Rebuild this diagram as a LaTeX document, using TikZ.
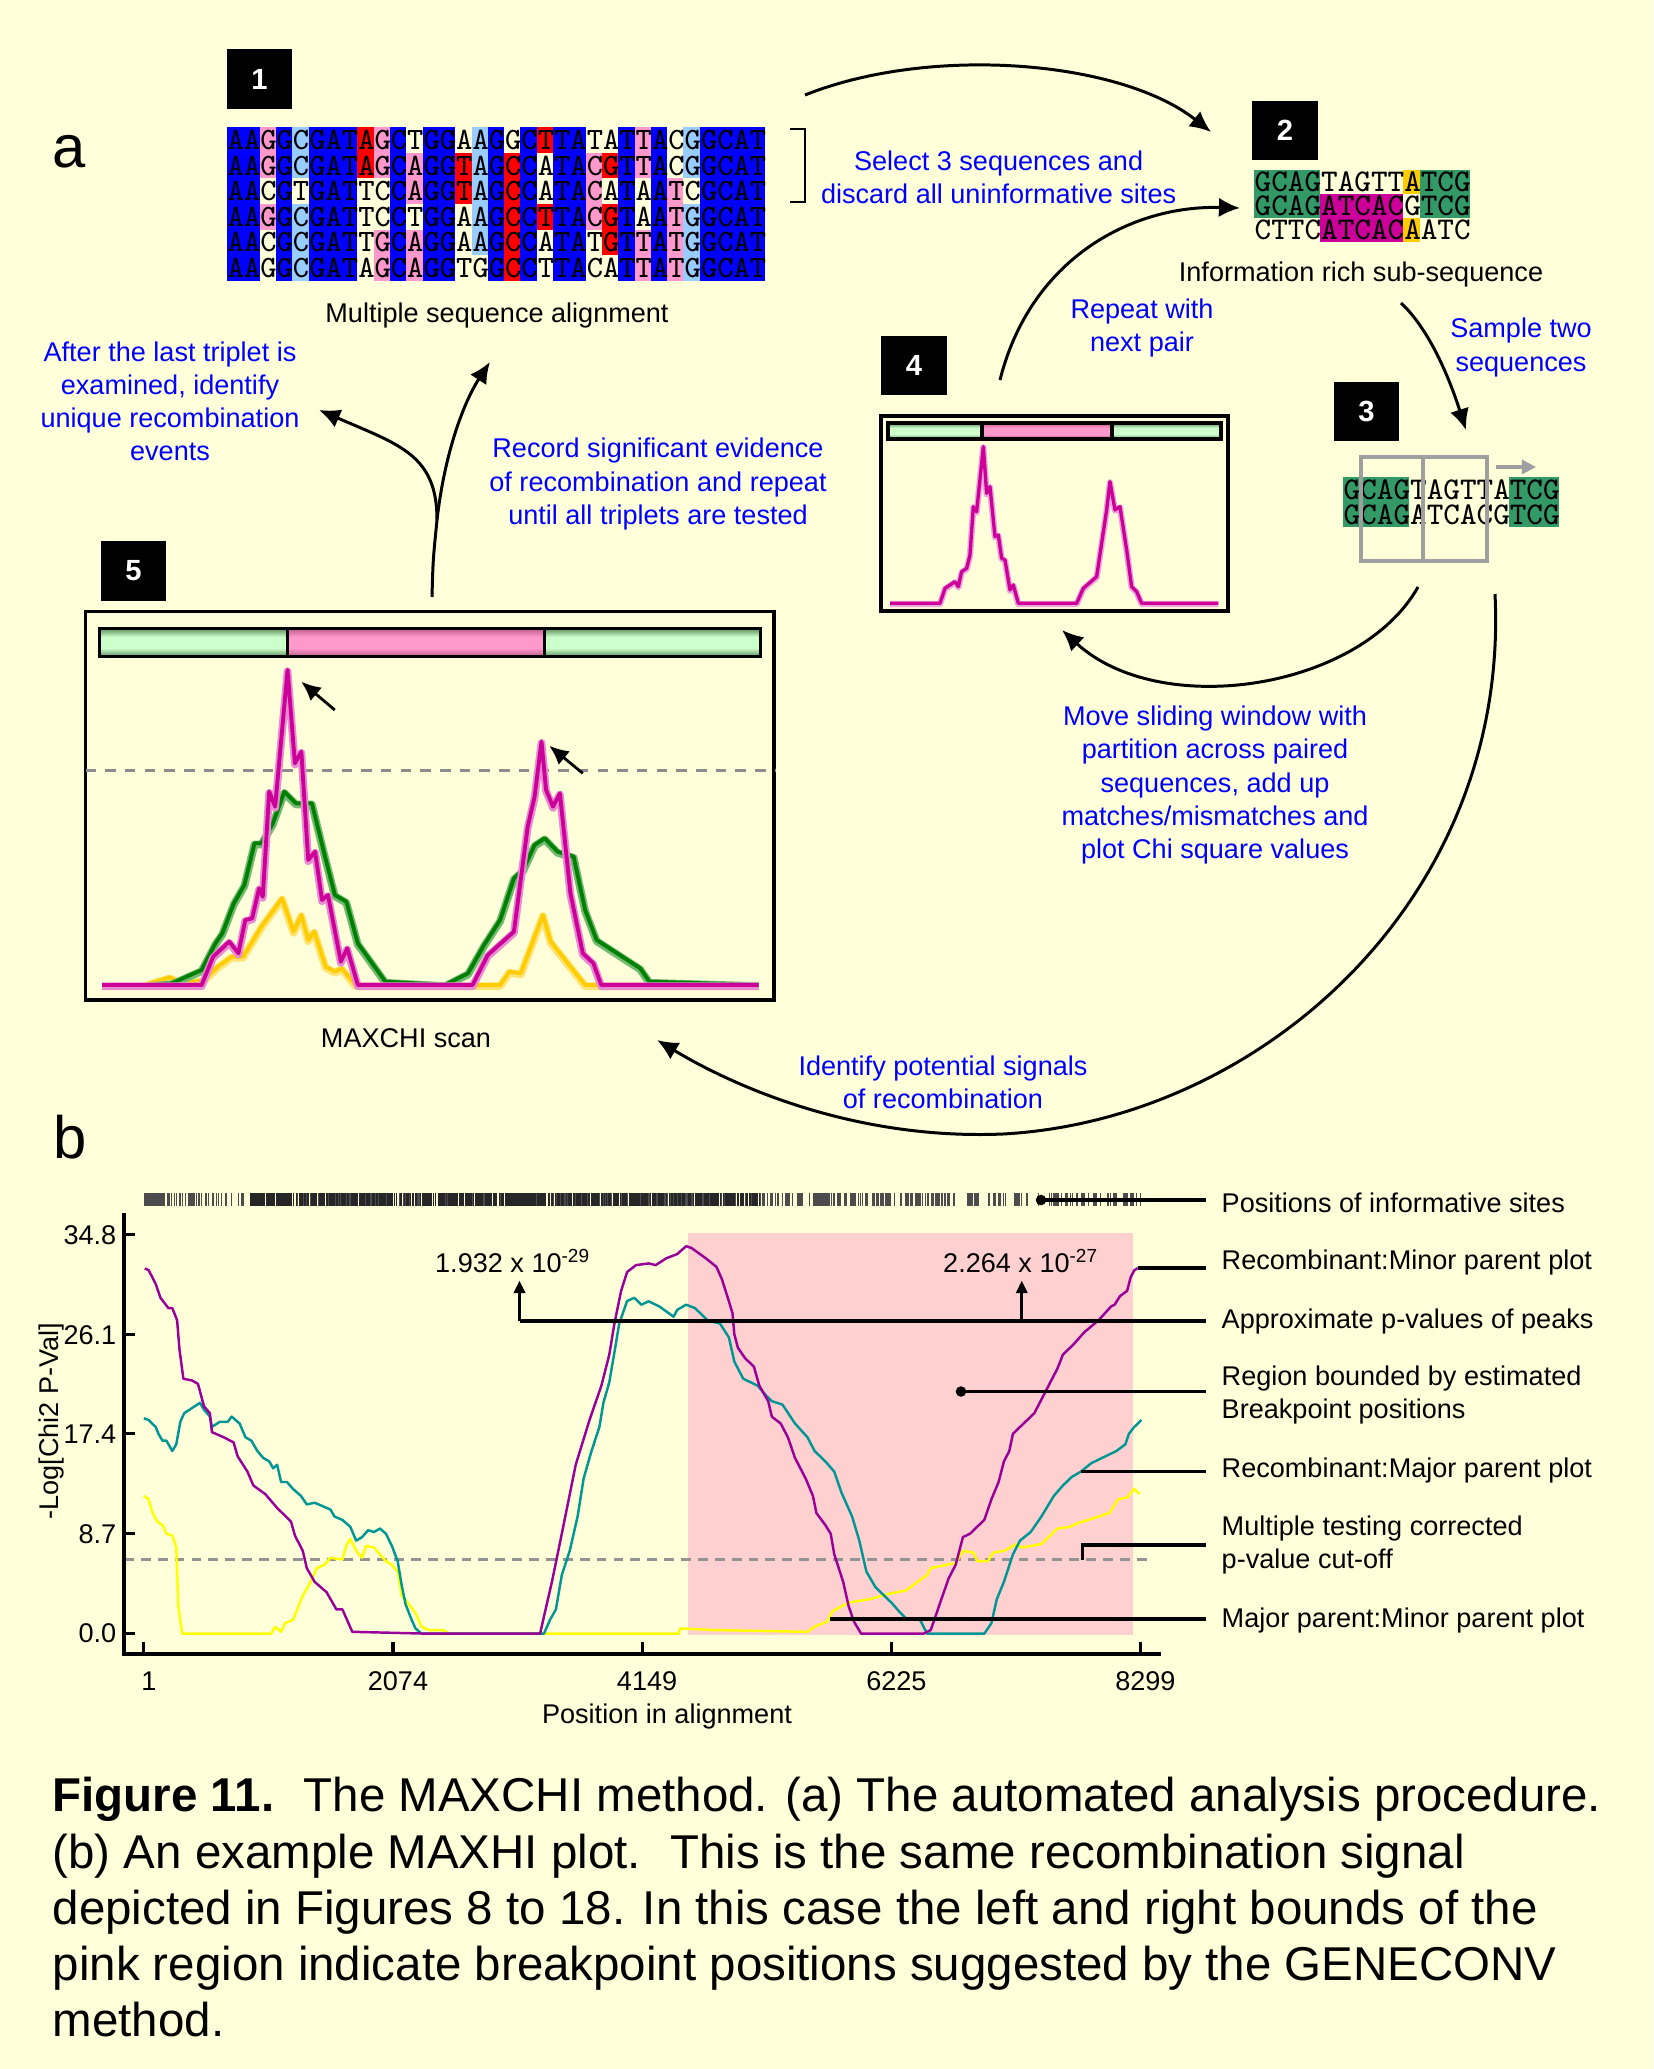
\documentclass[tikz,border=0pt]{standalone}
\usepackage{fontspec}
\setmainfont{Liberation Sans}
\usetikzlibrary{arrows.meta}
\definecolor{bgyel}{RGB}{255,255,218}
\definecolor{colB}{RGB}{0,0,255}
\definecolor{colP}{RGB}{255,153,204}
\definecolor{colL}{RGB}{153,204,255}
\definecolor{colR}{RGB}{255,0,0}
\colorlet{colW}{bgyel}
\definecolor{seqgreen}{RGB}{51,153,102}
\definecolor{seqmag}{RGB}{204,0,153}
\definecolor{seqyel}{RGB}{255,204,0}
\definecolor{barG}{RGB}{204,255,204}
\definecolor{barGd}{RGB}{90,140,90}
\definecolor{barP}{RGB}{255,153,204}
\definecolor{barPd}{RGB}{190,90,140}
\definecolor{chimag}{RGB}{204,0,153}
\definecolor{chigreen}{RGB}{0,128,0}
\definecolor{chiyel}{RGB}{255,204,0}
\definecolor{regpink}{RGB}{255,208,208}
\definecolor{plpurple}{RGB}{153,0,153}
\definecolor{plteal}{RGB}{0,150,150}
\definecolor{plyellow}{RGB}{255,255,0}
\newcommand\bodyfont{\fontsize{7.7}{9.4}\selectfont}
\newcommand\alrow[2]{\foreach \cl [count=\k] in {#2}{\fill[col\cl] ({227+(\k-1)*16.3},{127.3+(#1-1)*25.57}) rectangle ++(16.3,25.57);}}
% bar segment: x1, x2, top, bottom, light, dark
\newcommand\segbar[6]{%
  \fill[#5] (#1,#3) rectangle (#2,#4);
  \shade[top color=#6,bottom color=#5] (#1,#3) rectangle (#2,{#3+0.3*(#4-#3)});
  \shade[top color=#5,bottom color=#6] (#1,{#4-0.3*(#4-#3)}) rectangle (#2,#4);}

\begin{document}
\begin{tikzpicture}[x=0.01cm,y=-0.01cm,
  numbox/.style={fill=black,text=white,font=\bfseries\fontsize{8.3}{10}\selectfont,minimum width=0.65cm,minimum height=0.59cm,inner sep=0pt},
  note/.style={text=blue,align=center,font=\bodyfont,inner sep=0pt},
  lbl/.style={font=\bodyfont,inner sep=0pt},
  seqA/.style={font=\ttfamily\fontsize{8.84}{7.275}\selectfont,inner sep=0pt,anchor=west,align=left},
  seqB/.style={font=\ttfamily\fontsize{9}{6.83}\selectfont,inner sep=0pt,anchor=west,align=left},
  seqC/.style={font=\ttfamily\fontsize{9}{7.11}\selectfont,inner sep=0pt,anchor=west,align=left},
  flow/.style={line width=0.85pt,-{Latex[length=6pt,width=5.5pt]}},
  peakarrow/.style={line width=0.8pt,-{Latex[length=5.5pt,width=5pt]}},
  pvarrow/.style={line width=0.9pt,-{Triangle[length=3.6pt,width=3.2pt]}},
  lead/.style={line width=0.9pt},
  shfour/.style={chimag!35,line width=1.8pt,yshift=-0.6pt,line join=round},
  lnfour/.style={chimag,line width=0.95pt,line join=round},
  shyel/.style={chiyel!55,line width=2.2pt,yshift=-1pt,line join=round},
  lnyel/.style={chiyel,line width=1.1pt,line join=round},
  shgrn/.style={chigreen!55,line width=2.2pt,yshift=-1pt,line join=round},
  lngrn/.style={chigreen,line width=1.1pt,line join=round},
  shmag/.style={chimag!45,line width=2.2pt,yshift=-1pt,line join=round},
  lnmag/.style={chimag,line width=1.1pt,line join=round},
  captxt/.style={font=\fontsize{13.5}{16}\selectfont,anchor=base west,inner sep=0pt}]
\fill[bgyel] (0,0) rectangle (1653,2069);
\useasboundingbox (0,0) rectangle (1653,2069);

\node[font=\fontsize{17}{20}\selectfont] (parta) at (69,152) {a};
\node[font=\fontsize{17}{20}\selectfont] (partb) at (70,1137) {b};

% step 1
\node[numbox] (n1) at (259.5,79) {1};
\alrow{1}{B,B,P,B,L,B,B,B,R,P,B,W,B,B,W,L,B,W,B,R,B,B,W,W,B,P,B,W,L,B,B,B,B}
\alrow{2}{B,B,P,B,L,B,B,B,R,P,B,P,B,B,R,L,B,R,B,W,B,B,P,R,B,P,B,W,L,B,B,B,B}
\alrow{3}{B,B,W,B,W,B,B,B,W,W,B,P,B,B,R,L,B,R,B,W,B,B,P,W,B,W,B,P,W,B,B,B,B}
\alrow{4}{B,B,P,B,L,B,B,B,W,W,B,W,B,B,W,L,B,R,B,R,B,B,P,R,B,W,B,P,L,B,B,B,B}
\alrow{5}{B,B,W,B,L,B,B,B,W,P,B,P,B,B,W,L,B,R,B,W,B,B,W,R,B,P,B,P,L,B,B,B,B}
\alrow{6}{B,B,W,B,L,B,B,B,W,P,B,P,B,B,W,W,B,R,B,W,B,B,W,W,B,P,B,P,L,B,B,B,B}
\node[seqA] (align) at (227,204.05) {AAGGCGATAGCTGGAAGGCTTATATTACGGCAT\\AAGGCGATAGCAGGTAGCCATACGTTACGGCAT\\AACGTGATTCCAGGTAGCCATACATAATCGCAT\\AAGGCGATTCCTGGAAGCCTTACGTAATGGCAT\\AACGCGATTGCAGGAAGCCATATGTTATGGCAT\\AAGGCGATAGCAGGTGGCCTTACATTATGGCAT};
\node[lbl] (msa) at (497,315) {Multiple sequence alignment};
\draw[line width=0.6pt] (790,129) -- (805,129) -- (805,202) -- (790,202);
\node[note] (select) at (998.6,177.5) {Select 3 sequences and\\discard all uninformative sites};

% step 2
\node[numbox] (n2) at (1285,130.5) {2};
\fill[seqgreen] (1254,170) rectangle (1320.4,218);
\fill[seqgreen] (1420,170) rectangle (1469.8,218);
\fill[seqmag] (1320.4,194) rectangle (1403.4,242);
\fill[seqyel] (1403.4,170) rectangle (1420,194);
\fill[seqyel] (1403.4,218) rectangle (1420,242);
\node[seqB] (subseq) at (1254,206) {GCAGTAGTTATCG\\GCAGATCACGTCG\\CTTCATCACAATC};
\node[lbl] (info) at (1361,274) {Information rich sub-sequence};

% step 3
\node[numbox] (n3) at (1366.5,411.5) {3};
\fill[seqgreen] (1343,477) rectangle (1409.4,527);
\fill[seqgreen] (1509,477) rectangle (1558.8,527);
\node[seqC] (pair) at (1343,502) {GCAGTAGTTATCG\\GCAGATCACGTCG};
\draw[gray!75,line width=0.9pt] (1361,457) rectangle (1487,561) (1423,457) -- (1423,561);
\draw[gray!75,line width=0.9pt,-{Triangle[length=4pt,width=4pt]}] (1496,467) -- (1536,467);
\node[note] (sample) at (1521,347.5) {Sample two\\sequences};

% step 4
\node[numbox] (n4) at (914,365.5) {4};
\draw[line width=0.9pt] (881,416) rectangle (1228,611);
\segbar{888}{982}{423}{439}{barG}{barGd}
\segbar{982}{1112}{423}{439}{barP}{barPd}
\segbar{1112}{1221}{423}{439}{barG}{barGd}
\draw[line width=0.9pt] (888,423) rectangle (1221,439) (982,423) -- (982,439) (1112,423) -- (1112,439);
\begin{scope}[shift={(860,330)},scale=0.3333]
\foreach \st in {shfour,lnfour}
  \draw[\st] (90,820) -- (240,820) -- (255,775) -- (285,755) -- (295,770) -- (305,725) -- (320,715) -- (330,675) -- (340,530) -- (350,545) -- (370,350) -- (380,490) -- (390,470) -- (405,620) -- (415,615) -- (425,685) -- (435,690) -- (450,780) -- (460,765) -- (475,820) -- (650,820) -- (670,775) -- (710,740) -- (725,640) -- (740,540) -- (750,455) -- (765,540) -- (780,530) -- (800,660) -- (815,770) -- (830,785) -- (845,820) -- (1075,820);
\end{scope}
\node[note] (repeat) at (1142,328) {Repeat with\\next pair};
\node[note] (move) at (1215,785) {Move sliding window with\\partition across paired\\sequences, add up\\matches/mismatches and\\plot Chi square values};

% step 5
\node[numbox] (n5) at (133.5,571) {5};
\draw[line width=0.9pt] (85.5,611.7) rectangle (774,1000);
\segbar{99.3}{287.5}{628.3}{656.7}{barG}{barGd}
\segbar{287.5}{544.6}{628.3}{656.7}{barP}{barPd}
\segbar{544.6}{760.4}{628.3}{656.7}{barG}{barGd}
\draw[line width=1pt] (99.3,628.3) rectangle (760.4,656.7) (287.5,628.3) -- (287.5,656.7) (544.6,628.3) -- (544.6,656.7);
\draw[gray!90,line width=0.85pt,dash pattern=on 3pt off 2.6pt] (85.5,770) -- (775,770);
\begin{scope}[shift={(80,540)},xscale=0.4592,yscale=0.3333]
\foreach \st in {shyel,lnyel}
  \draw[\st] (140,1335) -- (195,1312) -- (225,1330) -- (270,1320) -- (300,1280) -- (330,1250) -- (355,1250) -- (395,1160) -- (440,1075) -- (465,1175) -- (482,1125) -- (497,1200) -- (510,1175) -- (535,1280) -- (555,1295) -- (570,1285) -- (600,1335) -- (915,1335) -- (935,1295) -- (960,1300) -- (1008,1125) -- (1025,1205) -- (1100,1335) -- (1478,1335);
\foreach \st in {shgrn,lngrn}
  \draw[\st] (150,1335) -- (200,1330) -- (265,1290) -- (295,1210) -- (310,1180) -- (335,1090) -- (358,1035) -- (380,910) -- (395,910) -- (420,850) -- (445,755) -- (470,790) -- (505,790) -- (530,930) -- (555,1065) -- (580,1085) -- (605,1210) -- (665,1325) -- (795,1335) -- (845,1300) -- (880,1215) -- (915,1140) -- (945,1015) -- (965,990) -- (990,915) -- (1012,895) -- (1040,935) -- (1075,950) -- (1100,1110) -- (1125,1200) -- (1220,1285) -- (1240,1325) -- (1478,1335);
\foreach \st in {shmag,lnmag}
  \draw[\st] (48,1335) -- (265,1335) -- (290,1250) -- (325,1205) -- (345,1240) -- (360,1140) -- (375,1135) -- (390,1045) -- (398,1070) -- (412,755) -- (425,800) -- (452,390) -- (468,670) -- (482,635) -- (497,960) -- (512,935) -- (527,1080) -- (540,1065) -- (568,1265) -- (582,1225) -- (605,1335) -- (855,1335) -- (888,1245) -- (945,1175) -- (975,860) -- (990,770) -- (1005,605) -- (1015,750) -- (1030,800) -- (1045,760) -- (1068,1060) -- (1095,1240) -- (1118,1270) -- (1135,1335) -- (1478,1335);
\end{scope}
\draw[peakarrow] (334.8,710) -- (301.3,681.7);
\draw[peakarrow] (582.8,773.3) -- (549.2,745.7);
\node[lbl] (scan) at (406,1038) {MAXCHI scan};
\node[note] (record) at (658,484) {Record significant evidence\\of recombination and repeat\\until all triplets are tested};
\node[note] (after) at (170,401.5) {After the last triplet is\\examined, identify\\unique recombination\\events};
\node[note] (identify) at (943,1082.5) {Identify potential signals\\of recombination};

% connectors of panel a
\coordinate (s1) at (805,95);     \coordinate (e1) at (1211,132);
\coordinate (s2) at (1000,380);   \coordinate (e2) at (1240,208);
\coordinate (s3) at (1401,303);   \coordinate (e3) at (1466,430);
\coordinate (s4) at (1418,587);   \coordinate (e4) at (1062,630);
\coordinate (s5) at (1495,594);   \coordinate (e5) at (657,1040);
\coordinate (stem) at (432,597);  \coordinate (fork) at (437,520);
\coordinate (eleft) at (319,410); \coordinate (eright) at (490,362);
\draw[flow] (s1) .. controls (930,45) and (1120,60) .. (e1);
\draw[flow] (s2) .. controls (1030,260) and (1130,205) .. (e2);
\draw[flow] (s3) .. controls (1430,330) and (1450,380) .. (e3);
\draw[flow] (s4) .. controls (1360,690) and (1160,720) .. (e4);
\draw[flow] (s5) .. controls (1510,900) and (1260,1120) .. (1003,1134) .. controls (860,1140) and (740,1090) .. (e5);
\draw[line width=0.85pt] (stem) .. controls (433,560) .. (fork);
\draw[flow] (fork) .. controls (437,455) and (400,445) .. (eleft);
\draw[flow] (fork) .. controls (445,450) and (465,400) .. (eright);

% panel b
\pgfmathsetseed{11}
\foreach \i in {1,...,650}{\pgfmathsetmacro\xx{145+996*rnd}\draw[black!70,line width=0.35pt] (\xx,1193) -- (\xx,1206);}
\foreach \i in {1,...,600}{\pgfmathsetmacro\xx{250+510*rnd}\draw[black!85,line width=0.35pt] (\xx,1193) -- (\xx,1206);}
\fill[regpink] (688,1233) rectangle (1132.5,1635);
\draw[gray!85,line width=0.6pt,dash pattern=on 2.8pt off 2pt] (124,1559.5) -- (1152,1559.5);
\draw[plyellow,line width=0.7pt,line join=round] (143.9,1495.8) -- (148.6,1499.3) -- (152.6,1513) -- (157.3,1521.6) -- (162.5,1525.1) -- (166.4,1533.7) -- (172.3,1535.4) -- (176.3,1547.5) -- (178.3,1606) -- (182.2,1633.6) -- (271.2,1633.6) -- (275.2,1626.7) -- (281.1,1631.8) -- (285,1623.2) -- (293,1619.8) -- (302.8,1595.7) -- (310.7,1581.9) -- (316.7,1568.1) -- (324.6,1564.7) -- (330.5,1557.8) -- (342.4,1559.5) -- (346.3,1545.7) -- (350.3,1538.9) -- (356.2,1550.9) -- (362.1,1557.8) -- (366.1,1545.7) -- (374,1547.5) -- (380,1554.4) -- (385.9,1561.2) -- (391.8,1564.7) -- (397.7,1571.6) -- (401.7,1595.7) -- (407.6,1602.6) -- (415.5,1612.9) -- (421.5,1626.7) -- (429.4,1630.1) -- (443.2,1630.1) -- (449.1,1633.6) -- (678.9,1633.6) -- (680,1628.4) -- (712.9,1630) -- (807.5,1631.8) -- (814.6,1626.7) -- (827.1,1621.5) -- (832.5,1611.2) -- (848.6,1602.6) -- (870,1599.1) -- (887.9,1594) -- (905.7,1590.5) -- (912.9,1585.3) -- (927.1,1575) -- (930.7,1568.1) -- (955.7,1563) -- (962.9,1550.9) -- (973.6,1552.6) -- (977.1,1561.2) -- (987.9,1561.2) -- (993.2,1552.6) -- (1003.9,1550.9) -- (1016.4,1544) -- (1021.8,1547.5) -- (1041.4,1544) -- (1057.5,1528.5) -- (1070,1526.8) -- (1077.1,1523.4) -- (1087.9,1520) -- (1109.3,1513) -- (1118.2,1499.3) -- (1127.1,1497.5) -- (1134.3,1488.9) -- (1139.6,1494.1);
\draw[plteal,line width=0.7pt,line join=round] (143.9,1418.3) -- (148.6,1420) -- (155.7,1426.9) -- (158.5,1433.8) -- (162.5,1440.7) -- (166.4,1440.7) -- (170.4,1447.6) -- (172.3,1451) -- (176.3,1444.2) -- (180.3,1421.8) -- (184.2,1413.2) -- (192.1,1408) -- (200,1402.8) -- (204,1409.7) -- (209.9,1416.6) -- (211.9,1426.9) -- (219.8,1421.8) -- (227.7,1421.8) -- (231.7,1416.6) -- (239.6,1423.5) -- (245.5,1437.3) -- (251.4,1440.7) -- (257.4,1451) -- (263.3,1457.9) -- (269.2,1461.4) -- (273.2,1468.3) -- (277.1,1464.8) -- (281.1,1482) -- (287,1482) -- (293,1488.9) -- (300.9,1495.8) -- (306.8,1504.4) -- (314.7,1502.7) -- (322.6,1506.1) -- (330.5,1509.6) -- (334.5,1516.5) -- (342.4,1519.9) -- (350.3,1526.8) -- (356.2,1540.6) -- (362.1,1537.1) -- (368.1,1530.2) -- (374,1532) -- (380,1528.5) -- (385.9,1533.7) -- (391.8,1545.7) -- (397.7,1561.2) -- (401.7,1585.3) -- (405.6,1604.3) -- (411.6,1619.8) -- (415.5,1628.4) -- (421.5,1633.6) -- (544,1633.6) -- (550,1619.8) -- (555.9,1609.4) -- (561.8,1575) -- (569.7,1550.9) -- (577.6,1516.5) -- (583.6,1478.6) -- (591.5,1451) -- (599.4,1426.9) -- (603.4,1402.8) -- (609.3,1382.2) -- (615.2,1347.7) -- (619.2,1323.6) -- (627.1,1301) -- (634.3,1297.8) -- (641.4,1304.7) -- (648.6,1301.3) -- (659.3,1306.4) -- (673.6,1316.7) -- (677.1,1309.9) -- (686.1,1304.7) -- (695,1308.1) -- (707.5,1320.2) -- (720,1323.6) -- (728.9,1337.4) -- (734.3,1361.5) -- (743.2,1378.7) -- (757.5,1385.6) -- (766.4,1395.9) -- (771.8,1401.1) -- (782.5,1404.6) -- (795,1423.5) -- (807.5,1437.3) -- (814.6,1451) -- (825.4,1461.4) -- (834.3,1471.7) -- (841.4,1492.4) -- (852.1,1516.5) -- (859.3,1540.6) -- (866.4,1571.6) -- (875.4,1587.1) -- (891.4,1602.6) -- (900.4,1612.9) -- (905.7,1618.1) -- (920,1619.8) -- (927.1,1633.6) -- (984.3,1633.6) -- (991.4,1623.2) -- (996.8,1599.1) -- (1003.9,1581.9) -- (1012.9,1554.4) -- (1020,1540.6) -- (1030.7,1532) -- (1041.4,1516.5) -- (1053.9,1495.8) -- (1062.9,1485.5) -- (1071.8,1476.9) -- (1080.7,1471.7) -- (1091.4,1463.1) -- (1102.1,1457.9) -- (1116.4,1451) -- (1125.4,1444.2) -- (1128.9,1433.8) -- (1134.3,1426.9) -- (1141.4,1420);
\draw[plpurple,line width=0.7pt,line join=round] (144.7,1268.5) -- (148.6,1270) -- (155.7,1284) -- (160.5,1297.8) -- (168.4,1308.1) -- (172.3,1308.1) -- (177.1,1320.2) -- (179.5,1349.5) -- (183.4,1378.7) -- (192.1,1380.5) -- (198,1383.9) -- (204,1406.3) -- (209.9,1413.2) -- (211.9,1432.1) -- (223.8,1437.3) -- (233.6,1442.4) -- (237.6,1456.2) -- (247.5,1471.7) -- (253.4,1485.5) -- (265.3,1494.1) -- (277.1,1507.9) -- (291,1521.6) -- (294.9,1535.4) -- (302.8,1550.9) -- (306.8,1568.1) -- (314.7,1581.9) -- (326.6,1592.2) -- (336.4,1609.4) -- (342.4,1609.4) -- (352.3,1631.8) -- (425.4,1633.6) -- (540.1,1633.6) -- (544,1616.3) -- (551.9,1581.9) -- (561.8,1533.7) -- (575.7,1464.8) -- (589.5,1420) -- (601.4,1385.6) -- (609.3,1354.6) -- (614.4,1323.6) -- (621.1,1290.9) -- (627.1,1272) -- (636,1265.1) -- (648.6,1263.4) -- (655.7,1265.1) -- (666.4,1258.2) -- (677.1,1254.1) -- (686.1,1246.2) -- (691.4,1247.9) -- (705.7,1258.2) -- (716.4,1266.8) -- (721.8,1278.9) -- (728.9,1301.3) -- (732.5,1313.3) -- (734.3,1334) -- (737.9,1347.7) -- (745,1358.1) -- (753.9,1366.7) -- (759.3,1385.6) -- (768.2,1401.1) -- (771.8,1416.6) -- (780.7,1423.5) -- (787.9,1437.3) -- (795,1457.9) -- (805.7,1478.6) -- (812.9,1495.8) -- (816.4,1513) -- (825.4,1525.1) -- (830.7,1533.7) -- (834.3,1554.4) -- (843.2,1581.9) -- (848.6,1606) -- (853.9,1621.5) -- (861.1,1633.6) -- (923.6,1633.6) -- (930.7,1630.1) -- (934.3,1619.8) -- (941.4,1599.1) -- (948.6,1578.5) -- (955.7,1564.7) -- (962.9,1537.1) -- (970,1533.7) -- (977.1,1526.8) -- (984.3,1519.9) -- (991.4,1499.3) -- (998.6,1482) -- (1003.9,1461.4) -- (1009.3,1451) -- (1012.9,1433.8) -- (1023.6,1423.5) -- (1034.3,1413.2) -- (1048.6,1385.6) -- (1057.5,1368.4) -- (1062.9,1354.6) -- (1073.6,1344.3) -- (1084.3,1332.2) -- (1098.6,1320.2) -- (1111.1,1306.4) -- (1114.6,1304.7) -- (1120,1296.1) -- (1127.1,1290.9) -- (1130.7,1277.1) -- (1134.3,1270.3) -- (1137.9,1267.9);
\draw[line width=0.9pt] (124,1213) -- (124,1654) -- (1161,1654);
\foreach \v/\y [count=\i] in {34.8/1234.8,26.1/1334.7,17.4/1433.8,8.7/1533.7,0.0/1633.6}{
  \draw[line width=0.9pt] (124,\y) -- (135,\y);
  \node[lbl,anchor=east] (ytick\i) at (117,\y) {\v};}
\foreach \p/\x [count=\i] in {1/143.9,2074/393,4149/642.1,6225/891.4,8299/1140.4}{
  \draw[line width=0.9pt] (\x,1642) -- (\x,1654);
  \node[lbl] (xtick\i) at (\x+5,1681) {\p};}
\node[lbl,rotate=90] (ylab) at (51,1421) {-Log[Chi2 P-Val]};
\node[lbl] (xlab) at (667,1716) {Position in alignment};
\node[lbl] (pv1) at (513,1261) {1.932 x 10\textsuperscript{-29}};
\node[lbl] (pv2) at (1021,1261) {2.264 x 10\textsuperscript{-27}};

\node[lbl,anchor=west] (lsites) at (1221,1203) {Positions of informative sites};
\node[lbl,anchor=west] (lminor) at (1221,1262) {Recombinant:Minor parent plot};
\node[lbl,anchor=west] (lpval) at (1221,1321) {Approximate p-values of peaks};
\node[lbl,anchor=west,align=left] (lregion) at (1221,1395) {Region bounded by estimated\\Breakpoint positions};
\node[lbl,anchor=west] (lmajor) at (1221,1470) {Recombinant:Major parent plot};
\node[lbl,anchor=west,align=left] (lcut) at (1221,1545) {Multiple testing corrected\\p-value cut-off};
\node[lbl,anchor=west] (lmm) at (1221,1620) {Major parent:Minor parent plot};
\coordinate (dsites) at (1041,1200);
\coordinate (dminor) at (1138,1268);
\coordinate (dpval) at (519.5,1321);
\coordinate (dregion) at (961,1391.5);
\coordinate (dmajor) at (1080.7,1471.7);
\coordinate (dcut) at (1082.5,1560);
\coordinate (dmm) at (830,1619);
\draw[lead,shorten >=0.15cm] (dsites) -- (dsites -| lsites.west);
\fill (dsites) circle (1.5pt);
\draw[lead,shorten >=0.15cm] (dminor) -- (dminor -| lminor.west);
\draw[lead,shorten >=0.15cm] (dpval) -- (dpval -| lpval.west);
\draw[pvarrow] (dpval) -- ++(0,-40.5);
\draw[pvarrow] (1021.8,1321) -- ++(0,-40.5);
\draw[lead,shorten >=0.15cm] (dregion) -- (dregion -| lregion.west);
\fill (dregion) circle (1.5pt);
\draw[lead,shorten >=0.15cm] (dmajor) -- (dmajor -| lmajor.west);
\draw[lead,shorten >=0.15cm] (dcut) -- ++(0,-15) -- (1221,1545);
\draw[lead,shorten >=0.15cm] (dmm) -- (dmm -| lmm.west);

% caption
\node[captxt] (cap1) at (52,1811.7) {\textbf{Figure 11.}\hspace{0.25em} The MAXCHI method. (a) The automated analysis procedure.};
\node[captxt] (cap2) at (52,1868) {(b) An example MAXHI plot.\hspace{0.25em} This is the same recombination signal};
\node[captxt] (cap3) at (52,1924.3) {depicted in Figures 8 to 18. In this case the left and right bounds of the};
\node[captxt] (cap4) at (52,1980.6) {pink region indicate breakpoint positions suggested by the GENECONV};
\node[captxt] (cap5) at (52,2036.9) {method.};
\end{tikzpicture}
\end{document}
